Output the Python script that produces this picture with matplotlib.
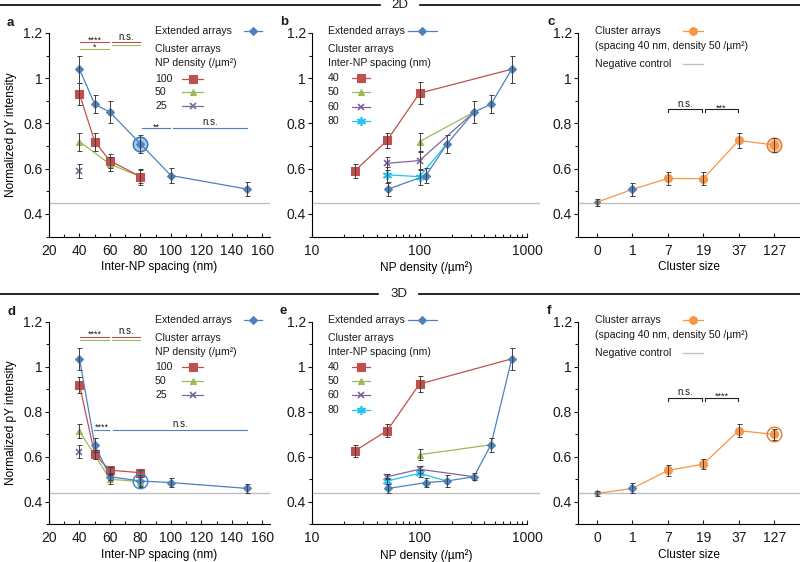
import matplotlib.pyplot as plt
from matplotlib.lines import Line2D
from matplotlib.ticker import FixedLocator, MultipleLocator, LogLocator, FuncFormatter, NullFormatter

# ---- data ----
ext_spacing = [40, 50, 60, 80, 100, 150]
ext_density = [722, 462, 321, 180, 115, 51]

ext_2d = [1.04, 0.885, 0.85, 0.71, 0.57, 0.51]
ext_2d_err = [0.06, 0.04, 0.05, 0.04, 0.035, 0.03]
ext_3d = [1.035, 0.653, 0.511, 0.492, 0.485, 0.459]
ext_3d_err = [0.05, 0.03, 0.015, 0.025, 0.02, 0.02]

neg_2d = 0.45
neg_3d = 0.44

# panels a / d: cluster arrays by NP density
dens100_spacing = [40, 50, 60, 80]
dens50_spacing = [40, 60, 80]
dens25_spacing = [40]

dens100_2d = [0.93, 0.72, 0.635, 0.565]
dens100_2d_err = [0.05, 0.04, 0.03, 0.035]
dens50_2d = [0.72, 0.62, 0.565]
dens50_2d_err = [0.04, 0.03, 0.03]
dens25_2d = [0.59]
dens25_2d_err = [0.03]

dens100_3d = [0.92, 0.61, 0.54, 0.529]
dens100_3d_err = [0.035, 0.02, 0.015, 0.012]
dens50_3d = [0.714, 0.50, 0.489]
dens50_3d_err = [0.03, 0.02, 0.02]
dens25_3d = [0.622]
dens25_3d_err = [0.028]

# panels b / e: cluster arrays by inter-NP spacing, each line then joins an extended array point
sp40_density = [25, 50, 100]
sp50_density = [100]
sp60_density = [50, 100]
sp80_density = [50, 100]
join_2d = [722, 321, 321, 180]
join_3d = [722, 462, 321, 180]

sp40_2d = [0.59, 0.725, 0.934]
sp40_2d_err = [0.03, 0.035, 0.05]
sp50_2d = [0.72]
sp50_2d_err = [0.04]
sp60_2d = [0.624, 0.636]
sp60_2d_err = [0.03, 0.04]
sp80_2d = [0.573, 0.565]
sp80_2d_err = [0.035, 0.035]

sp40_3d = [0.625, 0.716, 0.923]
sp40_3d_err = [0.028, 0.028, 0.035]
sp50_3d = [0.609]
sp50_3d_err = [0.025]
sp60_3d = [0.511, 0.544]
sp60_3d_err = [0.012, 0.015]
sp80_3d = [0.492, 0.526]
sp80_3d_err = [0.012, 0.015]

# panels c / f: cluster size
size_labels = ['0', '1', '7', '19', '37', '127']
size_2d = [0.452, 0.509, 0.557, 0.556, 0.725, 0.705]
size_2d_err = [0.015, 0.03, 0.03, 0.03, 0.035, 0.03]
size_3d = [0.437, 0.459, 0.539, 0.567, 0.716, 0.699]
size_3d_err = [0.012, 0.022, 0.025, 0.022, 0.028, 0.025]

# ---- style ----
plt.rcParams.update({
    "font.family": ["Liberation Sans", "DejaVu Sans"],
    "font.size": 8,
    "axes.linewidth": 0.8,
    "text.color": "#1a1a1a",
    "xtick.color": "#1a1a1a",
    "ytick.color": "#1a1a1a",
})

BLUE = '#4F81BD'
RED = '#C0504D'
GREEN = '#9BBB59'
PURPLE = '#8064A2'
CYAN = '#22C3F3'
ORANGE = '#F79646'
GRAY = '#BFBFBF'
ERR = '#404040'
LEG_FS = 7.6
LAB_FS = 8.6
TICK_FS = 10
SIG_FS = 6.5
STAR_OFF = 0.016  # baseline offset so that the asterisks sit on the given value

MK = {
    'ext': dict(color=BLUE, marker='D', ms=3.6, mew=0.8),
    'r': dict(color=RED, marker='s', ms=5.5, mew=0.8),
    'g': dict(color=GREEN, marker='^', ms=4.5, mew=0.8),
    'p': dict(color=PURPLE, marker='x', ms=5, mew=1.2),
    'c': dict(color=CYAN, marker=(6, 2, 0), ms=6.5, mew=1.2),
    'o': dict(color=ORANGE, marker='o', ms=5.5, mew=0.8),
}

W, H = 800, 562
fig = plt.figure(figsize=(8, 5.62), dpi=100)


def fx(x):
    return x / W


def fy(y):
    return 1 - y / H


def make_ax(col, row):
    l, r = col
    t, b = row
    ax = fig.add_axes([fx(l), fy(b), fx(r - l), (b - t) / H])
    for s in ['top', 'right']:
        ax.spines[s].set_visible(False)
    ax.set_ylim(0.3, 1.2)
    ax.yaxis.set_major_locator(FixedLocator([0.4, 0.6, 0.8, 1.0, 1.2]))
    ax.yaxis.set_minor_locator(FixedLocator([0.3, 0.5, 0.7, 0.9, 1.1]))
    ax.yaxis.set_major_formatter(FuncFormatter(lambda v, p: f'{v:g}'))
    ax.tick_params(axis='y', which='major', direction='out', length=3, width=0.8, pad=1.5, labelsize=TICK_FS)
    ax.tick_params(axis='y', which='minor', direction='out', length=2, width=0.8)
    ax.tick_params(axis='x', which='major', direction='in', length=3, width=0.8, pad=5, labelsize=TICK_FS)
    ax.tick_params(axis='x', which='minor', direction='in', length=2, width=0.8)
    return ax


def xlabel(ax, text, r):
    ax.set_xlabel(text, fontsize=LAB_FS)
    ax.xaxis.set_label_coords(0.5, -0.12 if r == 0 else -0.124)


def series(ax, x, y, err, key, markevery=None):
    st = MK[key]
    ax.plot(x, y, color=st['color'], lw=0.9, marker=st['marker'], ms=st['ms'], mew=st['mew'],
            mfc=st['color'], mec=st['color'], markevery=markevery, zorder=3)
    if markevery is not None:
        x, y = x[:len(err)], y[:len(err)]
    ax.errorbar(x, y, yerr=err, fmt='none', ecolor=ERR, elinewidth=0.7, capsize=1.8, capthick=0.7, zorder=4)


def sigline(ax, x0, x1, y, color):
    ax.plot([x0, x1], [y, y], color=color, lw=0.8, clip_on=False, zorder=2)


def stars(ax, x, yc, label):
    ax.text(x, yc - STAR_OFF, label, ha='center', va='baseline', fontsize=SIG_FS)


def ns(ax, x, y):
    ax.text(x, y + 0.003, 'n.s.', ha='center', va='bottom', fontsize=SIG_FS + 0.5)


def bracket(ax, x0, x1, y, label):
    ax.plot([x0, x0, x1, x1], [y - 0.014, y, y, y - 0.014], color='#222222', lw=0.8)
    if label == 'n.s.':
        ns(ax, (x0 + x1) / 2, y)
    else:
        stars(ax, (x0 + x1) / 2, y + 0.009, label)


def legend_item(x, y, label, key=None, x0=None, x1=None, line_color=None):
    fig.text(fx(x), fy(y), label, ha='left', va='center', fontsize=LEG_FS)
    if x0 is None:
        return
    color = line_color if line_color else MK[key]['color']
    fig.add_artist(Line2D([fx(x0), fx(x1)], [fy(y), fy(y)], color=color, lw=0.9, transform=fig.transFigure))
    if key:
        st = MK[key]
        fig.add_artist(Line2D([fx((x0 + x1) / 2)], [fy(y)], marker=st['marker'], ms=st['ms'], mew=st['mew'],
                              color=st['color'], mfc=st['color'], mec=st['color'], transform=fig.transFigure))


rows = [(33, 236.6), (321.7, 524.2)]
cols = [(49, 270), (312, 540), (578, 800)]

# section headers
for (y, lab, xa, xb) in [(5, '2D', 380, 420), (294, '3D', 378, 419)]:
    fig.add_artist(Line2D([0, fx(xa)], [fy(y), fy(y)], color='black', lw=1.2, transform=fig.transFigure))
    fig.add_artist(Line2D([fx(xb), 1], [fy(y), fy(y)], color='black', lw=1.2, transform=fig.transFigure))
    fig.text(fx((xa + xb) / 2), fy(y), lab, ha='center', va='center', fontsize=9.5)

for r, dim in enumerate(['2d', '3d']):
    dy = 0 if r == 0 else 288.7
    ext = ext_2d if dim == '2d' else ext_3d
    ext_err = ext_2d_err if dim == '2d' else ext_3d_err
    neg = neg_2d if dim == '2d' else neg_3d

    # ---- spacing panel (a / d) ----
    ax = make_ax(cols[0], rows[r])
    ax.set_xlim(20, 165)
    ax.xaxis.set_major_locator(MultipleLocator(20))
    ax.xaxis.set_minor_locator(MultipleLocator(10))
    ax.axhline(neg, color=GRAY, lw=1, zorder=1)
    if dim == '2d':
        series(ax, dens50_spacing, dens50_2d, dens50_2d_err, 'g')
        series(ax, dens100_spacing, dens100_2d, dens100_2d_err, 'r')
        series(ax, dens25_spacing, dens25_2d, dens25_2d_err, 'p')
        ax.plot(80, ext[3], 'o', ms=10.5, mfc=(0.36, 0.62, 0.88, 0.55), mec='#2E75B6', mew=1.0, zorder=2)
    else:
        series(ax, dens50_spacing, dens50_3d, dens50_3d_err, 'g')
        series(ax, dens100_spacing, dens100_3d, dens100_3d_err, 'r')
        series(ax, dens25_spacing, dens25_3d, dens25_3d_err, 'p')
        ax.plot(80, ext[3], 'o', ms=10.5, mfc='none', mec='#2E86DE', mew=1.0, zorder=5)
    series(ax, ext_spacing, ext, ext_err, 'ext')
    if dim == '2d':
        sigline(ax, 40.4, 59.6, 1.159, RED)
        sigline(ax, 40.4, 59.6, 1.131, GREEN)
        stars(ax, 50, 1.172, '****')
        stars(ax, 50, 1.144, '*')
        sigline(ax, 61.4, 79.8, 1.159, RED)
        sigline(ax, 61.4, 79.8, 1.146, GREEN)
        ns(ax, 70.6, 1.159)
        sigline(ax, 80.9, 99.5, 0.78, BLUE)
        stars(ax, 90.2, 0.789, '**')
        sigline(ax, 101.5, 150, 0.78, BLUE)
        ns(ax, 125.7, 0.78)
    else:
        sigline(ax, 40.4, 59.6, 1.133, RED)
        sigline(ax, 40.4, 59.6, 1.119, GREEN)
        stars(ax, 50, 1.148, '****')
        sigline(ax, 61.4, 79.8, 1.133, RED)
        sigline(ax, 61.4, 79.8, 1.119, GREEN)
        ns(ax, 70.6, 1.133)
        sigline(ax, 49.8, 59.4, 0.719, BLUE)
        stars(ax, 54.6, 0.734, '****')
        sigline(ax, 62.3, 150, 0.719, BLUE)
        ns(ax, 106, 0.719)
    xlabel(ax, 'Inter-NP spacing (nm)', r)
    ax.set_ylabel('Normalized pY intensity', fontsize=LAB_FS)
    ax.yaxis.set_label_coords(-0.145, 0.5)
    fig.text(fx(7), fy(23 + dy), 'a' if r == 0 else 'd', fontsize=9.5, fontweight='bold', va='center')

    legend_item(155, 31 + dy, 'Extended arrays', 'ext', 244, 262)
    legend_item(155, 49 + dy, 'Cluster arrays')
    legend_item(155, 63 + dy, 'NP density (/µm²)')
    legend_item(155, 78.5 + dy, '100', 'r', 182, 203)
    legend_item(155, 92 + dy, '50', 'g', 182, 203)
    legend_item(155, 106 + dy, '25', 'p', 182, 203)

    # ---- density panel (b / e) ----
    ax = make_ax(cols[1], rows[r])
    ax.set_xscale('log')
    ax.set_xlim(10, 1321)
    ax.spines['bottom'].set_bounds(10, 1000)
    ax.xaxis.set_major_locator(FixedLocator([10, 100, 1000]))
    ax.xaxis.set_major_formatter(FuncFormatter(lambda v, p: f'{v:g}'))
    ax.xaxis.set_minor_locator(LogLocator(base=10, subs=range(2, 10)))
    ax.xaxis.set_minor_formatter(NullFormatter())
    ax.axhline(neg, color=GRAY, lw=1, zorder=1)
    joins = join_2d if dim == '2d' else join_3d
    groups = [
        (sp40_density, sp40_2d if dim == '2d' else sp40_3d, sp40_2d_err if dim == '2d' else sp40_3d_err, 'r'),
        (sp50_density, sp50_2d if dim == '2d' else sp50_3d, sp50_2d_err if dim == '2d' else sp50_3d_err, 'g'),
        (sp60_density, sp60_2d if dim == '2d' else sp60_3d, sp60_2d_err if dim == '2d' else sp60_3d_err, 'p'),
        (sp80_density, sp80_2d if dim == '2d' else sp80_3d, sp80_2d_err if dim == '2d' else sp80_3d_err, 'c'),
    ]
    for (dens, vals, errs, key), jd in zip(groups, joins):
        jv = ext[ext_density.index(jd)]
        series(ax, dens + [jd], vals + [jv], errs, key, markevery=list(range(len(dens))))
    series(ax, ext_density, ext, ext_err, 'ext')
    xlabel(ax, 'NP density (/µm²)', r)
    fig.text(fx(280), fy(22 + dy), 'b' if r == 0 else 'e', fontsize=9.5, fontweight='bold', va='center')

    legend_item(328, 31 + dy, 'Extended arrays', 'ext', 408, 437)
    legend_item(328, 49 + dy, 'Cluster arrays')
    legend_item(328, 63 + dy, 'Inter-NP spacing (nm)')
    legend_item(328, 78 + dy, '40', 'r', 352, 370)
    legend_item(328, 92 + dy, '50', 'g', 352, 370)
    legend_item(328, 106.5 + dy, '60', 'p', 352, 370)
    legend_item(328, 121 + dy, '80', 'c', 352, 370)

    # ---- cluster size panel (c / f) ----
    ax = make_ax(cols[2], rows[r])
    ax.set_xlim(-0.537, 5.73)
    xs = list(range(len(size_labels)))
    ax.xaxis.set_major_locator(FixedLocator(xs))
    ax.set_xticklabels(size_labels)
    ax.axhline(neg, color=GRAY, lw=1, zorder=1)
    vals = size_2d if dim == '2d' else size_3d
    errs = size_2d_err if dim == '2d' else size_3d_err
    if dim == '2d':
        ax.plot(5, vals[5], 'o', ms=10.5, mfc=(0.98, 0.72, 0.5, 0.8), mec='#E07B39', mew=1.0, zorder=2)
    else:
        ax.plot(5, vals[5], 'o', ms=10.5, mfc='none', mec='#E8772E', mew=1.0, zorder=5)
    ax.plot(xs, vals, color=ORANGE, lw=0.9, zorder=3)
    ax.plot(xs[2:], vals[2:], 'o', color=ORANGE, ms=5.5, zorder=3)
    ax.plot(xs[1], vals[1], 'D', color=BLUE, ms=3.6, zorder=3)
    ax.plot(xs[0], vals[0], 'D', color='#7F7F7F', ms=3, zorder=3)
    ax.errorbar(xs, vals, yerr=errs, fmt='none', ecolor=ERR, elinewidth=0.7, capsize=1.8, capthick=0.7, zorder=4)
    bracket(ax, 2.0, 2.96, 0.863, 'n.s.')
    bracket(ax, 3.04, 3.98, 0.863, '***' if dim == '2d' else '****')
    xlabel(ax, 'Cluster size', r)
    fig.text(fx(547), fy(22 + dy), 'c' if r == 0 else 'f', fontsize=9.5, fontweight='bold', va='center')

    legend_item(595, 31 + dy, 'Cluster arrays', 'o', 683, 703)
    legend_item(595, 46 + dy, '(spacing 40 nm, density 50 /µm²)')
    legend_item(595, 64 + dy, 'Negative control', None, 683, 703, line_color=GRAY)

fig.savefig('out.png', dpi=100)
